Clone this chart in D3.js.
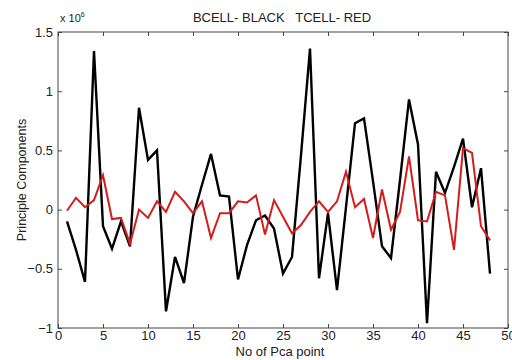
<!DOCTYPE html>
<html>
<head>
<meta charset="utf-8">
<script src="https://cdn.jsdelivr.net/npm/d3@7"></script>
<style>
  body { margin: 0; background: #fff; }
  text { font-family: "Liberation Sans", Arial, sans-serif; fill: #222; }
</style>
</head>
<body>
<script>
let width = 512,
  height = 360

let margin = { top: 32, right: 4, bottom: 32, left: 58 }

// values in units of 1e6, x = 1..48
let bcell = [-0.10, -0.34, -0.61, 1.34, -0.14, -0.33, -0.10, -0.31, 0.86, 0.42,
  0.50, -0.86, -0.40, -0.62, -0.06, 0.21, 0.47, 0.12, 0.11, -0.59,
  -0.30, -0.09, -0.05, -0.16, -0.54, -0.40, 0.46, 1.36, -0.58, -0.03,
  -0.68, 0.02, 0.73, 0.77, 0.24, -0.31, -0.41, 0.25, 0.93, 0.55,
  -0.96, 0.32, 0.14, 0.36, 0.60, 0.02, 0.35, -0.54]

let tcell = [-0.01, 0.10, 0.02, 0.08, 0.29, -0.08, -0.07, -0.29, 0.00, -0.07,
  0.07, -0.02, 0.15, 0.07, -0.03, 0.07, -0.24, -0.03, -0.03, 0.07,
  0.06, 0.12, -0.21, 0.08, -0.06, -0.20, -0.13, -0.02, 0.07, -0.02,
  0.07, 0.32, 0.02, 0.09, -0.24, 0.17, -0.17, -0.02, 0.45, -0.09,
  -0.10, 0.15, 0.12, -0.34, 0.52, 0.48, -0.14, -0.26]

let xTicks = [0, 5, 10, 15, 20, 25, 30, 35, 40, 45, 50]
let yTicks = [-1, -0.5, 0, 0.5, 1, 1.5]

let svg = d3.select('body').append('svg')
  .attr('width', width)
  .attr('height', height)

let x = d3.scaleLinear().domain([0, 50]).range([margin.left, width - margin.right])
let y = d3.scaleLinear().domain([-1, 1.5]).range([height - margin.bottom, margin.top])

let frameColor = '#444'

// frame
svg.append('rect')
  .attr('x', x(0))
  .attr('y', y(1.5))
  .attr('width', x(50) - x(0))
  .attr('height', y(-1) - y(1.5))
  .attr('fill', 'none')
  .attr('stroke', frameColor)

// axes: ticks inside, labels outside
let xAxis = svg.append('g')
  .attr('transform', `translate(0,${y(-1)})`)
  .call(d3.axisBottom(x).tickValues(xTicks).tickSize(-4).tickPadding(3).tickFormat(d3.format('d')))
let xAxisTop = svg.append('g')
  .attr('transform', `translate(0,${y(1.5)})`)
  .call(d3.axisTop(x).tickValues(xTicks).tickSize(-4).tickFormat(''))
let yAxis = svg.append('g')
  .attr('transform', `translate(${x(0)},0)`)
  .call(d3.axisLeft(y).tickValues(yTicks).tickSize(-4).tickPadding(5).tickFormat(d => d3.format('')(d)))
let yAxisRight = svg.append('g')
  .attr('transform', `translate(${x(50)},0)`)
  .call(d3.axisRight(y).tickValues(yTicks).tickSize(-4).tickFormat(''))

;[xAxis, xAxisTop, yAxis, yAxisRight].forEach(g => {
  g.select('.domain').remove()
  g.selectAll('line').attr('stroke', frameColor)
  g.selectAll('text')
    .style('font-family', '"Liberation Sans", Arial, sans-serif')
    .style('font-size', '13px')
    .attr('fill', '#333')
})

let line = d3.line()
  .x((d, i) => x(i + 1))
  .y(d => y(d))

svg.append('path')
  .datum(bcell)
  .attr('fill', 'none')
  .attr('stroke', '#000')
  .attr('stroke-width', 2.4)
  .attr('d', line)

svg.append('path')
  .datum(tcell)
  .attr('fill', 'none')
  .attr('stroke', '#d41c1c')
  .attr('stroke-width', 2)
  .attr('d', line)

// title and labels
svg.append('text')
  .attr('x', 282)
  .attr('y', 22)
  .attr('text-anchor', 'middle')
  .attr('xml:space', 'preserve')
  .style('font-size', '13px')
  .text('BCELL- BLACK   TCELL- RED')

let expo = svg.append('text')
  .attr('x', x(0) + 2)
  .attr('y', 22)
  .style('font-size', '11px')
  .attr('fill', '#333')
expo.append('tspan').text('x 10')
expo.append('tspan').attr('dy', -5).style('font-size', '7px').text('6')

svg.append('text')
  .attr('x', 280)
  .attr('y', 356)
  .attr('text-anchor', 'middle')
  .style('font-size', '13px')
  .text('No of Pca point')

svg.append('text')
  .attr('transform', `translate(26,${y(0.25)}) rotate(-90)`)
  .attr('text-anchor', 'middle')
  .style('font-size', '12.5px')
  .text('Principle Components')
</script>
</body>
</html>
